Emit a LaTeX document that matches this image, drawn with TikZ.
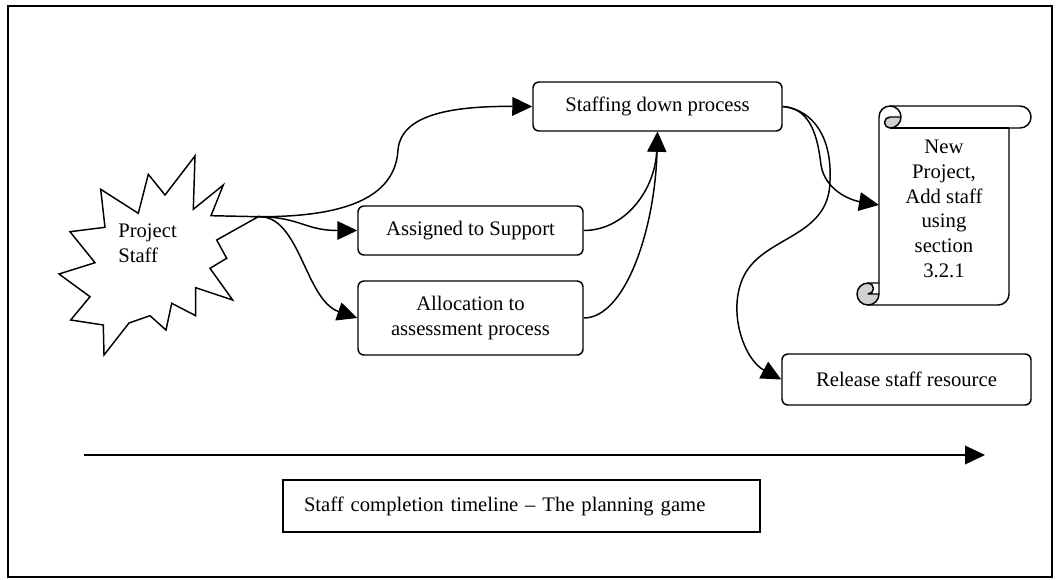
\documentclass[tikz,border=0pt]{standalone}
\usepackage{fontspec}
\setmainfont{Liberation Serif}
\usetikzlibrary{arrows.meta}
\begin{document}
\begin{tikzpicture}[x=0.75pt,y=-0.75pt,
  font=\fontsize{15.5}{18.5}\selectfont,
  thick line/.style={line width=1.1pt},
  box/.style={draw, line width=1.1pt, rounded corners=4.5pt, inner sep=0pt, align=center, fill=white},
  conn/.style={line width=1.1pt, -{Triangle[length=15pt,width=14pt]}},
  curlfill/.style={fill=black!18},
]
\useasboundingbox (0,0) rectangle (1057,579);

% outer frame
\draw[thick line] (8,6) rectangle (1052,577);

% burst shape
\draw[thick line, line join=miter, fill=white]
  (195,156) -- (193.3,209.3) -- (223.3,185) -- (211,215.7) -- (258.3,216.7)
  -- (216.7,240) -- (226.7,258.3) -- (210,268.3) -- (232.7,300) -- (195.7,287.7)
  -- (195.7,315.7) -- (171.7,303.3) -- (166,330) -- (150,315.7) -- (129,323)
  -- (104,355) -- (103.3,325) -- (70.7,320) -- (90,296.7) -- (59,274)
  -- (95,262.7) -- (70,231.7) -- (105,227.3) -- (100.7,189.3) -- (138.3,213.3)
  -- (148.3,174.3) -- (165,195) -- cycle;
\coordinate (burst) at (258.3,216.7);
\node[anchor=west, align=left, inner sep=0pt] (bursttext) at (118,243) {Project\\Staff};

% process boxes
\node[box, minimum width=186.75pt, minimum height=36.75pt] (staff) at (657.5,106.5) {Staffing down process};
\node[box, minimum width=168.75pt, minimum height=36.75pt] (support) at (470.5,230.5) {Assigned to Support};
\node[box, minimum width=168.75pt, minimum height=55.5pt] (alloc) at (470.5,318) {Allocation to\\assessment process};
\node[box, minimum width=186.75pt, minimum height=38.25pt] (release) at (906.5,379.5) {Release staff resource};

% scroll
\begin{scope}[shift={(857,106)}]
  \fill[white] (22,177) -- (22,11) arc[start angle=180, delta angle=90, radius=11]
    -- (163,0) arc[start angle=270, delta angle=180, radius=11] -- (152,22)
    -- (152,188) arc[start angle=0, delta angle=90, radius=11]
    -- (11,199) arc[start angle=90, delta angle=180, radius=11] -- cycle;
  % shaded curls
  \fill[curlfill] (44,11) arc[start angle=0, delta angle=90, radius=11]
    arc[start angle=90, delta angle=180, radius=5.5] -- cycle;
  \fill[curlfill] (22,188) arc[start angle=0, delta angle=270, radius=11]
    arc[start angle=270, delta angle=180, radius=5.5] -- cycle;
  % outline
  \draw[thick line, line join=round] (22,177) -- (22,11) arc[start angle=180, delta angle=90, radius=11]
    -- (163,0) arc[start angle=270, delta angle=180, radius=11] -- (152,22)
    -- (152,188) arc[start angle=0, delta angle=90, radius=11]
    -- (11,199) arc[start angle=90, delta angle=180, radius=11] -- cycle;
  \draw[thick line, line join=round] (33,0) arc[start angle=270, delta angle=180, radius=11]
    arc[start angle=90, delta angle=180, radius=5.5] -- (44,11);
  \draw[thick line] (33,22) -- (152,22);
  \draw[thick line, line join=round] (11,177) arc[start angle=270, delta angle=180, radius=5.5] -- (22,188);
  \draw[thick line, line join=round] (11,199) arc[start angle=90, delta angle=-90, radius=11] -- (22,177);
  \coordinate (scroll) at (22,99);
\end{scope}
\node[align=center, inner sep=0pt] (scrolltext) at (944,209) {New\\Project,\\Add staff\\using\\section\\3.2.1};

% connectors
\draw[conn] (burst) .. controls (340,217) and (395,200) .. (398,150)
  .. controls (401,115) and (450,106) .. (staff.west);
\draw[conn] (burst) .. controls (300,217) and (305,230.5) .. (support.west);
\draw[conn] (burst) .. controls (300,215) and (305,300) .. (alloc.west);
\draw[conn] (support.east) .. controls (625,230.5) and (655,190) .. (staff.south);
\draw[conn] (alloc.east) .. controls (625,318) and (655,230) .. (staff.south);
\draw[conn] (staff.east) .. controls (812,108) and (818,140) .. (821,165)
  .. controls (825,190) and (850,200) .. (scroll);
\draw[conn] (staff.east) .. controls (815,110) and (832,140) .. (830,180)
  .. controls (830,240) and (760,235) .. (742,280)
  .. controls (728,315) and (745,360) .. (release.west);

% timeline
\coordinate (tlstart) at (84,455);
\coordinate (tlend) at (985,455);
\draw[conn] (tlstart) -- (tlend);
\node[draw, line width=1.1pt, inner xsep=15.75pt, inner ysep=0pt, text width=326.25pt,
  minimum height=39pt, align=left] (timeline) at (521.5,506)
  {Staff completion timeline -- The planning game};
\end{tikzpicture}
\end{document}
